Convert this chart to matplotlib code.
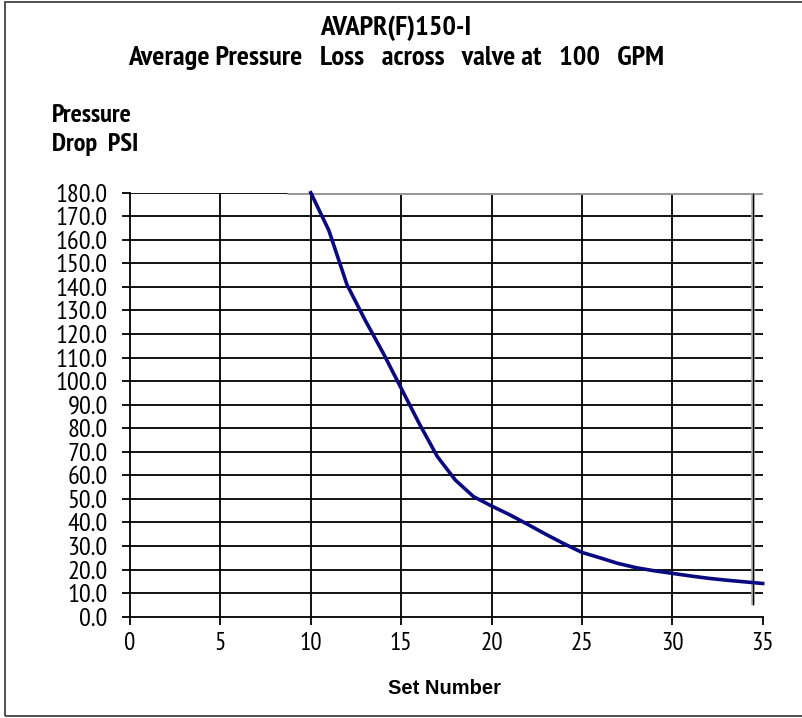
import matplotlib
matplotlib.use("Agg")
import matplotlib.pyplot as plt
from matplotlib.patches import Rectangle
import matplotlib.font_manager as fm

names = {f.name for f in fm.fontManager.ttflist}
candidates = ['Liberation Sans Narrow', 'Arial Narrow', 'PT Sans Narrow', 'Archivo Narrow',
              'Roboto Condensed', 'Pragati Narrow', 'Fira Sans Condensed',
              'IBM Plex Sans Condensed', 'Encode Sans Condensed']
NARROW = next((n for n in candidates if n in names), 'Liberation Sans')
plt.rcParams['font.family'] = [NARROW, 'Liberation Sans', 'DejaVu Sans']

# ---- data ----
set_number = [10, 11, 12, 13, 14, 15, 16, 17, 18, 19, 20, 21, 22, 23, 24, 25,
              26, 27, 28, 29, 30, 31, 32, 33, 34, 35]
pressure_drop = [180.0, 164.0, 141.0, 126.0, 112.0, 97.0, 82.0, 68.0, 58.0, 51.0,
                 47.0, 43.3, 39.2, 35.0, 31.0, 27.3, 25.0, 22.6, 20.8, 19.5,
                 18.4, 17.3, 16.3, 15.5, 14.8, 14.1]
x_ticks = [0, 5, 10, 15, 20, 25, 30, 35]
y_ticks = [i * 10.0 for i in range(19)]
y_tick_labels = [f"{v:.1f}" for v in y_ticks]
title_lines = ["AVAPR(F)150-I", "Average Pressure   Loss   across   valve at   100   GPM"]
y_label = "Pressure\nDrop  PSI"
x_label = "Set Number"

fig = plt.figure(figsize=(8.03, 7.18), dpi=100)
fig.patches.append(Rectangle((5 / 803, 2 / 718), 1.2, 714 / 718, transform=fig.transFigure,
                             fill=False, edgecolor='#333333', linewidth=1.2))

ax = fig.add_axes([130 / 803, 1 - 616.7 / 718, 632.7 / 803, 424 / 718])
ax.set_xlim(0, 35)
ax.set_ylim(0, 180)

# grid
for v in y_ticks[1:]:
    ax.axhline(v, color='black', linewidth=1.3, zorder=1)
for v in x_ticks[1:-1]:
    ax.axvline(v, color='black', linewidth=1.3, zorder=1)
# grey top edge and odd right-side line
ax.hlines(180, 8.7, 35, color='#999999', linewidth=2.2, zorder=2)
ax.vlines(34.45, 5, 180, color='#aaaaaa', linewidth=2.6, zorder=2)
ax.vlines(34.45, 5, 180, color='black', linewidth=0.9, zorder=2)

ax.plot(set_number, pressure_drop, color='#0a0a80', linewidth=2.6, zorder=3,
        solid_joinstyle='round', clip_on=False)

for s in ['top', 'right']:
    ax.spines[s].set_visible(False)
ax.spines['left'].set_linewidth(1.3)
ax.spines['bottom'].set_linewidth(1.3)

ax.set_xticks(x_ticks)
ax.set_yticks(y_ticks)
ax.set_yticklabels(y_tick_labels)
ax.tick_params(axis='both', direction='out', length=6, width=1.3, colors='black')
ax.tick_params(axis='y', pad=10, labelsize=19)
ax.tick_params(axis='x', pad=5, labelsize=18)

fig.text(396 / 803, 1 - 28 / 718, title_lines[0], ha='center', va='center',
         fontsize=20.5, fontweight='bold')
fig.text(396 / 803, 1 - 58 / 718, title_lines[1], ha='center', va='center',
         fontsize=20.5, fontweight='bold')
fig.text(52 / 803, 1 - 116 / 718, y_label.split("\n")[0], ha='left', va='center',
         fontsize=19, fontweight='bold')
fig.text(52 / 803, 1 - 144 / 718, y_label.split("\n")[1], ha='left', va='center',
         fontsize=19, fontweight='bold')
fig.text(445 / 803, 1 - 688 / 718, x_label, ha='center', va='center', fontsize=14.5,
         fontweight='bold', family=['Liberation Sans', 'DejaVu Sans'])

fig.savefig('out.png', dpi=100)
